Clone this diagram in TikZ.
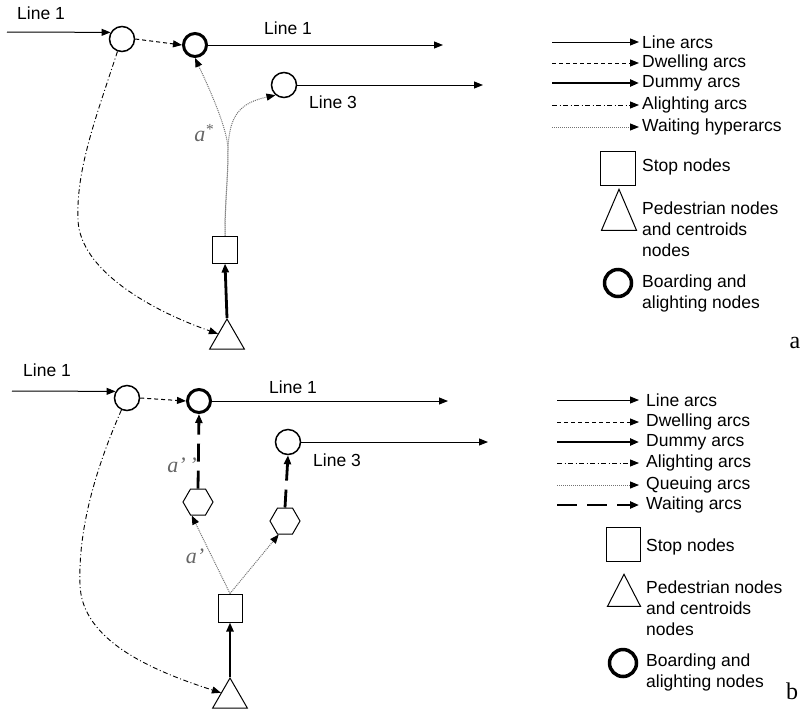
\documentclass[tikz,border=0pt]{standalone}
\usepackage{fontspec}
\setmainfont{Liberation Sans}
\newfontfamily\labelfont{Liberation Serif}
\usetikzlibrary{arrows.meta,shapes.geometric}

\begin{document}
\begin{tikzpicture}[x=1pt,y=-1pt,
        >={Triangle[length=9pt,width=7pt]},
        every node/.style={font=\fontsize{17.5}{21}\selectfont},
        linearc/.style={->,line width=1pt},
        dwellarc/.style={->,line width=1pt,dash pattern=on 4pt off 3pt},
        dummyarc/.style={->,line width=2.8pt},
        alightarc/.style={->,line width=0.9pt,dash pattern=on 5pt off 2.5pt on 1pt off 2.5pt},
        hyperarc/.style={-{Triangle[length=9pt,width=7pt,color=black]},line width=1pt,black!55,densely dotted},
        waitarc/.style={->,line width=2.8pt,dash pattern=on 18pt off 9pt},
        boardnode/.style={circle,draw,line width=1.5pt,minimum size=25pt,inner sep=0pt},
        thickboard/.style={circle,draw,line width=3pt,minimum size=23pt,inner sep=0pt},
        legboard/.style={circle,draw,line width=3.5pt,minimum size=27pt,inner sep=0pt},
        stopnode/.style={rectangle,draw,line width=1pt,minimum width=25pt,minimum height=27pt,inner sep=0pt},
        pednode/.style={regular polygon,regular polygon sides=3,draw,line width=1pt,minimum size=40pt,inner sep=0pt,anchor=corner 1},
        legped/.style={isosceles triangle,isosceles triangle stretches,shape border rotate=90,draw,line width=1pt,inner sep=0pt,anchor=apex},
        queuenode/.style={regular polygon,regular polygon sides=6,draw,line width=1pt,minimum size=30pt,inner sep=0pt},
        lbl/.style={font=\labelfont\itshape\fontsize{22}{24}\selectfont,text=black!60},
        legtext/.style={anchor=west,inner xsep=3pt,align=left},
        panel/.style={font=\labelfont\fontsize{24}{26}\selectfont}]
    \useasboundingbox (0,0) rectangle (802,713);

    % --- a: waiting hyperarcs ---
    \node[boardnode] (aA) at (122,39) {};
    \node[thickboard] (bA) at (195,45) {};
    \node[boardnode] (cA) at (284,85) {};
    \node[stopnode] (stopA) at (225,249.5) {};
    \node[pednode] (triA) at (227,318) {};
    \coordinate (inA) at (7,32);
    \coordinate (outA1) at (443,45);
    \coordinate (outA3) at (483,85);
    \coordinate (splitA) at (228,150);
    \node (lineInA) at (41,13) {Line 1};
    \node (lineOutA1) at (288,28) {Line 1};
    \node (lineOutA3) at (333,102) {Line 3};
    \node[lbl] (aStar) at (204,133) {a\textsuperscript{*}};
    \draw[linearc] (inA) -- (aA.150);
    \draw[dwellarc] (aA.east) -- (bA.west);
    \draw[linearc] (bA.east) -- (outA1);
    \draw[linearc] (cA.east) -- (outA3);
    \draw[dummyarc] (triA.corner 1) -- (stopA.south);
    \draw[hyperarc] (stopA.north) .. controls (225,200) and (228,180) .. (splitA) .. controls (228,130) and (210,90) .. (bA.south);
    \draw[hyperarc] (stopA.north) .. controls (225,200) and (228,180) .. (splitA) .. controls (229,115) and (240,103) .. (cA.230);
    \draw[alightarc] (aA.250) .. controls (95,120) and (76,170) .. (78,220) .. controls (80,270) and (150,310) .. (triA.side 1);

    % legend a
    \node[legtext] (tLineA) at (639,42) {Line arcs};
    \node[legtext] (tDwellA) at (639,63) {Dwelling arcs};
    \node[legtext] (tDummyA) at (639,83) {Dummy arcs};
    \node[legtext] (tAlightA) at (639,105) {Alighting arcs};
    \node[legtext] (tHyperA) at (639,127) {Waiting hyperarcs};
    \coordinate (sLineA) at (552,42);
    \coordinate (sDwellA) at (552,63);
    \coordinate (sDummyA) at (552,83);
    \coordinate (sAlightA) at (552,105);
    \coordinate (sHyperA) at (552,127);
    \draw[linearc] (sLineA) -- (tLineA.west);
    \draw[dwellarc] (sDwellA) -- (tDwellA.west);
    \draw[dummyarc] (sDummyA) -- (tDummyA.west);
    \draw[alightarc] (sAlightA) -- (tAlightA.west);
    \draw[hyperarc] (sHyperA) -- (tHyperA.west);
    \node[stopnode,minimum width=35pt,minimum height=34pt] (legStopA) at (618,168) {};
    \node[legtext] (tStopA) at (639,167) {Stop nodes};
    \node[legped,minimum width=35pt,minimum height=41pt] (legPedA) at (619,188) {};
    \node[legtext] (tPedA) at (639,229) {Pedestrian nodes\\and centroids\\nodes};
    \node[legboard] (legBoardA) at (618,283) {};
    \node[legtext] (tBoardA) at (639,293) {Boarding and\\alighting nodes};
    \node[panel] (panelA) at (795,343) {a};

    % --- b: queuing and waiting arcs ---
    \node[boardnode] (aB) at (127,398) {};
    \node[thickboard] (bB) at (199,401) {};
    \node[boardnode] (cB) at (288,442) {};
    \node[queuenode] (hexL) at (198,502) {};
    \node[queuenode] (hexR) at (285,521) {};
    \node[stopnode,minimum width=24pt,minimum height=28pt] (stopB) at (230,608) {};
    \node[pednode] (triB) at (230,677) {};
    \coordinate (inB) at (12,391);
    \coordinate (outB1) at (448,401);
    \coordinate (outB3) at (488,442);
    \node (lineInB) at (47,370) {Line 1};
    \node (lineOutB1) at (293,387) {Line 1};
    \node (lineOutB3) at (337,460) {Line 3};
    \node[lbl] (aTwo) at (182,465) {a’\,’};
    \node[lbl] (aOne) at (195,556) {a’};
    \draw[linearc] (inB) -- (aB.150);
    \draw[dwellarc] (aB.east) -- (bB.west);
    \draw[linearc] (bB.east) -- (outB1);
    \draw[linearc] (cB.east) -- (outB3);
    \draw[dummyarc] (triB.corner 1) -- (stopB.south);
    \draw[hyperarc] (stopB.north) -- (hexL.245);
    \draw[hyperarc] (stopB.north) -- (hexR.245);
    \draw[waitarc] (hexL.north) -- (bB.south);
    \draw[waitarc] (hexR.north) -- (cB.south);
    \draw[alightarc] (aB.245) .. controls (95,470) and (78,530) .. (80,585) .. controls (82,640) and (150,670) .. (triB.side 1);

    % legend b
    \node[legtext,inner xsep=7pt] (tLineB) at (639,400) {Line arcs};
    \node[legtext,inner xsep=7pt] (tDwellB) at (639,422) {Dwelling arcs};
    \node[legtext,inner xsep=7pt] (tDummyB) at (639,442) {Dummy arcs};
    \node[legtext,inner xsep=7pt] (tAlightB) at (639,463) {Alighting arcs};
    \node[legtext,inner xsep=7pt] (tQueueB) at (639,485) {Queuing arcs};
    \node[legtext,inner xsep=7pt] (tWaitB) at (639,505) {Waiting arcs};
    \coordinate (sLineB) at (557,400);
    \coordinate (sDwellB) at (557,422);
    \coordinate (sDummyB) at (557,442);
    \coordinate (sAlightB) at (557,463);
    \coordinate (sQueueB) at (557,485);
    \coordinate (sWaitB) at (557,505);
    \draw[linearc] (sLineB) -- (tLineB.west);
    \draw[dwellarc] (sDwellB) -- (tDwellB.west);
    \draw[dummyarc] (sDummyB) -- (tDummyB.west);
    \draw[alightarc] (sAlightB) -- (tAlightB.west);
    \draw[hyperarc] (sQueueB) -- (tQueueB.west);
    \draw[waitarc,dash pattern=on 20pt off 10pt] (sWaitB) -- (tWaitB.west);
    \node[stopnode,minimum width=34pt,minimum height=34pt] (legStopB) at (623,544) {};
    \node[legtext,inner xsep=7pt] (tStopB) at (639,547) {Stop nodes};
    \node[legped,minimum width=33pt,minimum height=32pt] (legPedB) at (624,573) {};
    \node[legtext,inner xsep=7pt] (tPedB) at (639,608) {Pedestrian nodes\\and centroids\\nodes};
    \node[legboard] (legBoardB) at (623,663) {};
    \node[legtext,inner xsep=7pt] (tBoardB) at (639,672) {Boarding and\\alighting nodes};
    \node[panel] (panelB) at (792,691) {b};
\end{tikzpicture}
\end{document}
